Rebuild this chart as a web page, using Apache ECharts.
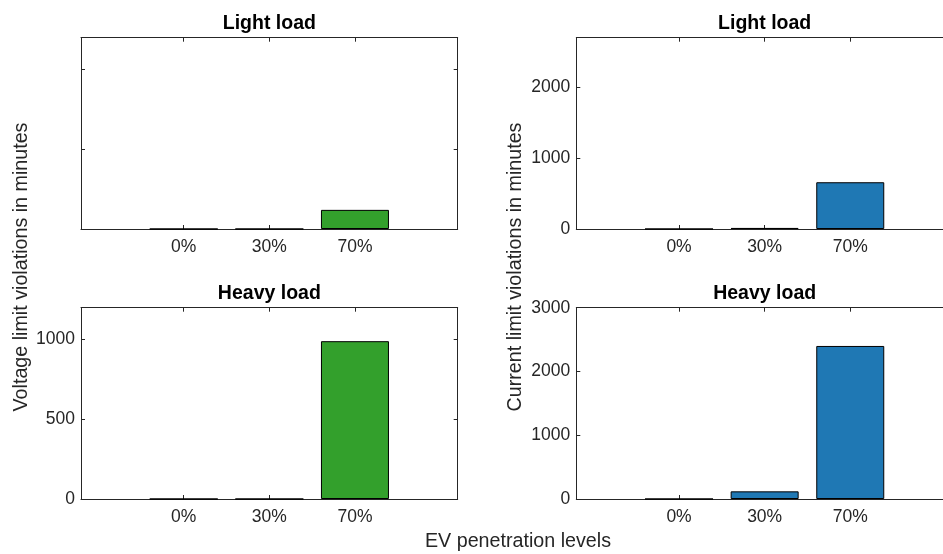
<!DOCTYPE html>
<html><head><meta charset="utf-8">
<script src="https://cdn.jsdelivr.net/npm/echarts@6/dist/echarts.min.js"></script>
<style>html,body{margin:0;padding:0;background:#fff}#c{width:943px;height:554px}</style>
</head><body><div id="c"></div>
<script>
// ---- data ----
const categories = ['0%', '30%', '70%'];
const voltageLight = [0, 0, 120];
const currentLight = [0, 15, 660];
const voltageHeavy = [0, 0, 990];
const currentHeavy = [0, 120, 2400];
const panelTitles = ['Light load', 'Light load', 'Heavy load', 'Heavy load'];
const yMax = [1200, 2700, 1200, 3000];
const yTicks = [[0, 500, 1000], [0, 1000, 2000], [0, 500, 1000], [0, 1000, 2000, 3000]];
const yLabelsShown = [false, true, true, true];
const leftLabel = 'Voltage limit violations in minutes';
const rightLabel = 'Current limit violations in minutes';
const xLabel = 'EV penetration levels';

// ---- layout / style ----
const FONT = 'Liberation Sans, Arial, Helvetica, sans-serif';
const AX = '#262626';
const GREEN = '#33a02c', BLUE = '#1f78b4';
const panelData = [voltageLight, currentLight, voltageHeavy, currentHeavy];
const panelColor = [GREEN, BLUE, GREEN, BLUE];
const gl = [81, 576.3, 81, 576.3];
const gt = [37.7, 37.7, 307.7, 307.7];
const GW = 376.7, GH = 191.3;
const catPos = categories.map((c, i) => i + 1);

const grid = [], xAxis = [], yAxis = [], series = [];
for (let p = 0; p < 4; p++) {
  grid.push({ left: gl[p], top: gt[p], width: GW, height: GH, containLabel: false, outerBoundsMode: 'none' });
  const xBase = {
    type: 'value', gridIndex: p, min: -0.2, max: 4.2,
    axisLine: { show: true, onZero: false, lineStyle: { color: AX, width: 1 } },
    axisTick: { show: true, inside: true, length: 4, customValues: catPos, lineStyle: { color: AX } },
    splitLine: { show: false }
  };
  xAxis.push(Object.assign({}, xBase, {
    position: 'bottom',
    axisLabel: { show: true, customValues: catPos, margin: 9, color: AX, fontSize: 17.5, fontFamily: FONT,
      formatter: v => categories[Math.round(v) - 1] || '' }
  }));
  xAxis.push(Object.assign({}, xBase, { position: 'top', axisLabel: { show: false } }));
  const yBase = {
    type: 'value', gridIndex: p, min: 0, max: yMax[p],
    axisLine: { show: true, onZero: false, lineStyle: { color: AX, width: 1 } },
    axisTick: { show: true, inside: true, length: 4, customValues: yTicks[p], lineStyle: { color: AX } },
    splitLine: { show: false }
  };
  yAxis.push(Object.assign({}, yBase, {
    position: 'left',
    axisLabel: { show: yLabelsShown[p], customValues: yTicks[p], margin: 6, color: AX, fontSize: 17.5,
      fontFamily: FONT, formatter: v => String(v) }
  }));
  yAxis.push(Object.assign({}, yBase, { position: 'right', axisLabel: { show: false } }));
  series.push({
    type: 'bar', xAxisIndex: 2 * p, yAxisIndex: 2 * p, barWidth: 68,
    data: panelData[p].map((v, i) => [catPos[i], v]),
    itemStyle: { color: panelColor[p], borderColor: '#000', borderWidth: 1 },
    emphasis: { disabled: true }, animation: false
  });
}

const titleY = [24, 24, 293.5, 293.5];
const graphic = [];
for (let p = 0; p < 4; p++) {
  graphic.push({ type: 'text', x: gl[p] + GW / 2, y: titleY[p],
    style: { text: panelTitles[p], fontFamily: FONT, fontSize: 19.5, fontWeight: 'bold', fill: '#000',
      align: 'center', verticalAlign: 'middle' } });
}
graphic.push({ type: 'text', x: 22, y: 267, rotation: Math.PI / 2,
  style: { text: leftLabel, fontFamily: FONT, fontSize: 19.7, fill: AX, align: 'center', verticalAlign: 'middle' } });
graphic.push({ type: 'text', x: 516, y: 267, rotation: Math.PI / 2,
  style: { text: rightLabel, fontFamily: FONT, fontSize: 19.7, fill: AX, align: 'center', verticalAlign: 'middle' } });
graphic.push({ type: 'text', x: 518, y: 542,
  style: { text: xLabel, fontFamily: FONT, fontSize: 19.7, fill: AX, align: 'center', verticalAlign: 'middle' } });

const chart = echarts.init(document.getElementById('c'), null, { renderer: 'canvas' });
chart.setOption({ animation: false, backgroundColor: '#fff', grid, xAxis, yAxis, series, graphic });
</script>
</body></html>
